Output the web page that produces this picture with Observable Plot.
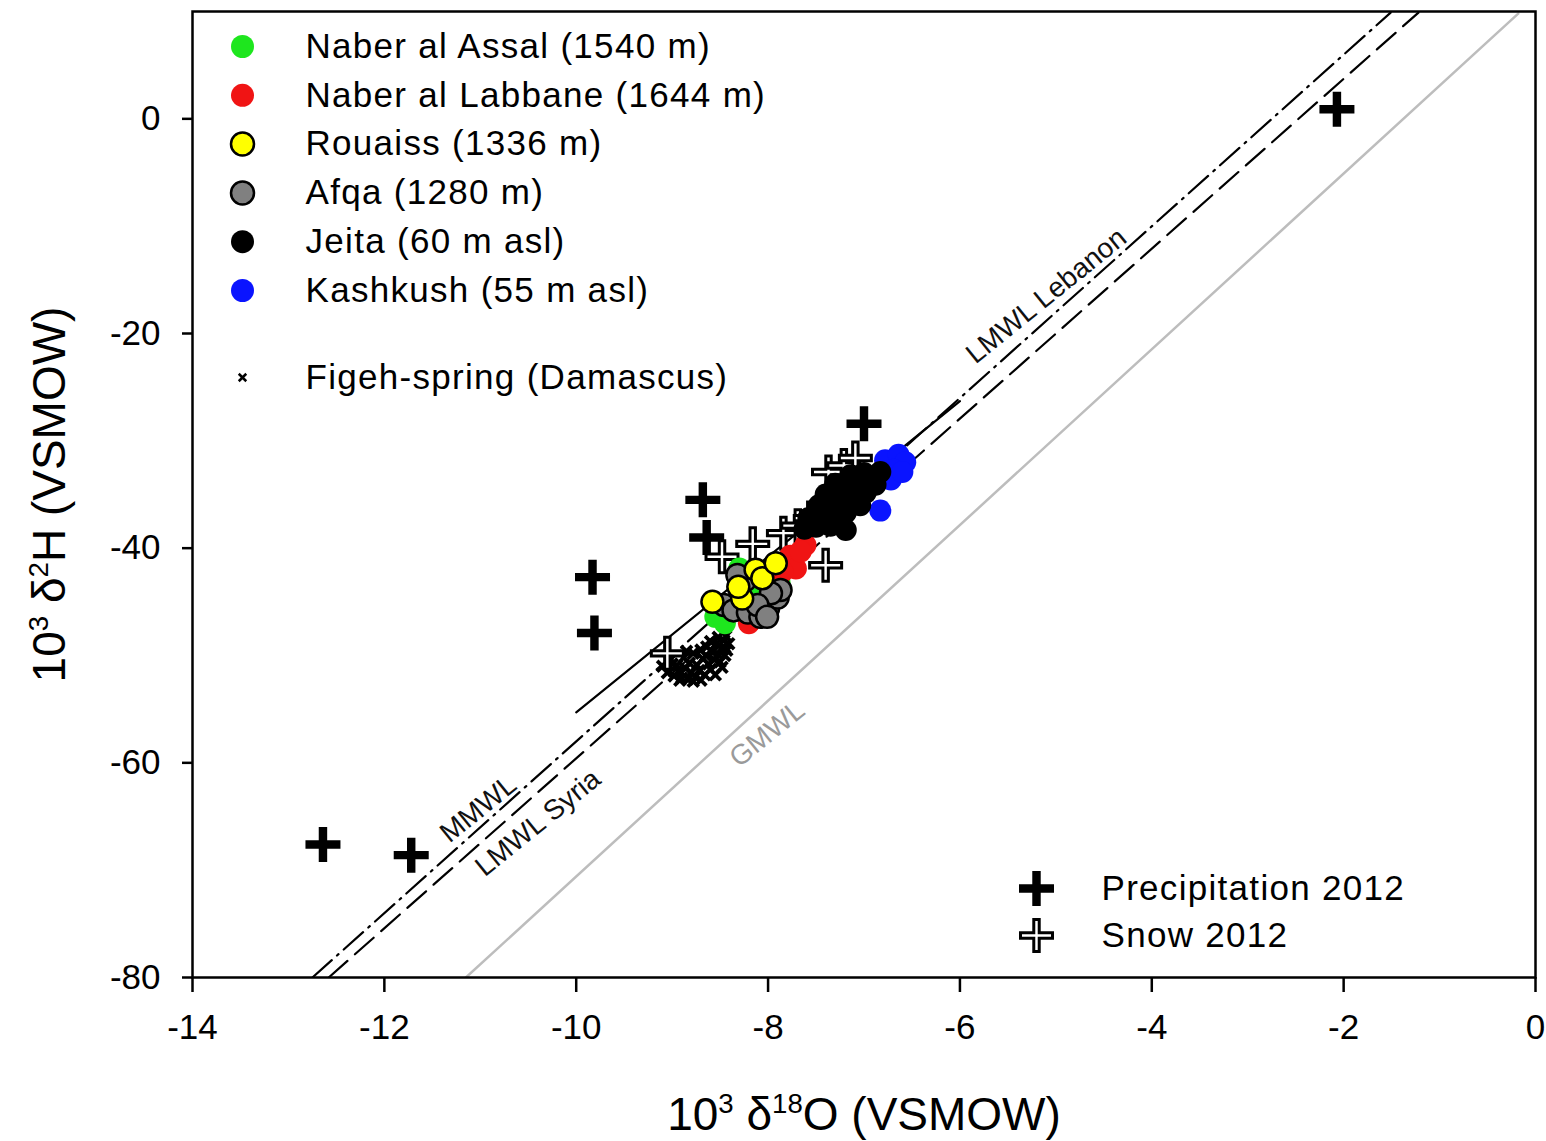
<!DOCTYPE html>
<html><head><meta charset="utf-8">
<script src="https://cdn.jsdelivr.net/npm/d3@7"></script>
<script src="https://cdn.jsdelivr.net/npm/@observablehq/plot@0.6"></script>
<style>html,body{margin:0;padding:0;background:#fff;}</style>
</head><body><div id="chart"></div>
<script>
// ---------- data (δ18O, δ2H in ‰ VSMOW) ----------
const xTicks = [-14, -12, -10, -8, -6, -4, -2, 0];
const yTicks = [-80, -60, -40, -20, 0];

const naberAssal = [[-8.55,-46.4],[-8.45,-47.0],[-8.30,-41.9],[-8.12,-43.9],[-7.88,-43.2],[-8.22,-45.2]];
const naberLabbane = [[-7.77,-40.7],[-7.61,-39.7],[-7.71,-41.9],[-7.66,-40.3],[-8.20,-47.0],[-7.85,-42.2]];
const rouaiss = [[-8.58,-45.0],[-8.27,-44.7],[-8.31,-43.6],[-8.13,-42.0],[-8.06,-42.8],[-7.92,-41.4]];
const afqa = [[-8.46,-45.3],[-8.36,-45.8],[-8.21,-46.0],[-8.08,-46.4],[-8.00,-45.6],[-7.90,-44.6],
              [-7.87,-43.9],[-7.97,-44.2],[-8.11,-45.3],[-8.24,-43.0],[-8.32,-42.5],[-8.01,-46.4]];
const jeita = [[-7.54,-37.4],[-7.40,-36.7],[-7.25,-35.3],[-7.09,-34.6],[-6.93,-33.5],[-6.83,-32.9],
               [-7.19,-38.3],[-7.35,-37.9],[-7.04,-36.0],[-7.30,-34.0],[-7.14,-33.2],[-6.98,-34.8],
               [-7.47,-36.0],[-7.58,-37.2],[-6.88,-34.1],[-7.19,-36.7],[-7.50,-38.0],[-7.30,-36.0],
               [-7.10,-35.5],[-7.40,-35.0],[-7.00,-33.0],[-7.25,-37.0],[-7.20,-34.2],[-7.62,-38.2]];
const kashkush = [[-6.78,-31.8],[-6.64,-31.3],[-6.57,-32.0],[-6.69,-32.7],[-6.83,-33.5],[-6.83,-36.5],
                  [-6.72,-33.6],[-6.60,-32.9]];
const figehSpring = [[-9.10,-51.0],[-9.05,-51.6],[-9.02,-50.4],[-8.98,-51.9],[-8.95,-50.9],[-8.93,-51.5],
  [-8.90,-52.1],[-8.88,-50.2],[-8.86,-51.2],[-8.84,-52.2],[-8.82,-50.7],[-8.80,-51.6],[-8.78,-49.8],
  [-8.76,-52.0],[-8.74,-50.9],[-8.72,-51.4],[-8.70,-49.5],[-8.68,-50.3],[-8.66,-51.8],[-8.64,-49.2],
  [-8.62,-50.8],[-8.60,-51.3],[-8.58,-49.7],[-8.56,-50.4],[-8.54,-48.9],[-8.52,-49.9],[-8.50,-50.6],
  [-8.48,-49.3],[-8.46,-48.6],[-8.45,-50.0],[-8.43,-49.5],[-8.41,-48.9],[-8.48,-51.1],[-8.60,-48.7],
  [-8.70,-52.3],[-8.92,-52.3],[-9.00,-50.8],[-8.85,-49.6],[-8.55,-51.8],[-8.78,-52.4],[-8.65,-50.0],
  [-8.52,-48.3],[-8.44,-48.2]];
const precipitation2012 = [[-12.64,-67.6],[-11.72,-68.6],[-9.83,-42.7],[-9.81,-47.9],[-8.68,-35.5],
                           [-8.64,-39.0],[-7.00,-28.4],[-2.07,0.9]];
const snow2012 = [[-8.48,-40.8],[-8.16,-39.6],[-7.84,-38.6],[-7.69,-37.9],[-7.40,-41.6],[-7.37,-32.9],
                  [-7.21,-32.3],[-7.09,-31.6],[-9.05,-49.8],[-7.56,-37.2]];

// reference lines (end points)
const gmwlO = [-11.15, -0.18], gmwlH = [-80, 9.8];
const mmwlO = [-12.75, -1.51], mmwlH = [-80, 9.9];
const lmwlSyriaO = [-12.58, -1.22], lmwlSyriaH = [-80, 9.9];
const lmwlLebanonO = [-10.0, -6.0], lmwlLebanonH = [-55.3, -26.3];

const lineLabels = ["MMWL", "LMWL Syria", "LMWL Lebanon", "GMWL"];
const lineLabelO = [-11.02, -10.40, -5.10, -8.01];
const lineLabelH = [-64.3, -65.6, -16.5, -57.3];
const lineLabelColor = ["#111", "#111", "#111", "#9a9a9a"];

const legendTop = ["Naber al Assal (1540 m)", "Naber al Labbane (1644 m)", "Rouaiss (1336 m)",
                   "Afqa (1280 m)", "Jeita (60 m asl)", "Kashkush (55 m asl)"];
const legendFigeh = "Figeh-spring (Damascus)";
const legendBottom = ["Precipitation 2012", "Snow 2012"];
const xLabel = "__XLABEL__", yLabel = "__YLABEL__";

// ---------- helpers ----------
const rows = a => a.map(([o, h]) => ({o, h}));
const seg = (O, H) => O.map((o, i) => ({o, h: H[i]}));
const cross = {
  draw(ctx, size) {
    const R = Math.sqrt(size / Math.PI), w = R * 0.17;
    ctx.moveTo(-w, -R); ctx.lineTo(w, -R); ctx.lineTo(w, -w); ctx.lineTo(R, -w);
    ctx.lineTo(R, w); ctx.lineTo(w, w); ctx.lineTo(w, R); ctx.lineTo(-w, R);
    ctx.lineTo(-w, w); ctx.lineTo(-R, w); ctx.lineTo(-R, -w); ctx.lineTo(-w, -w);
    ctx.closePath();
  }
};
const styles = [
  {fill: "#1ee61e"},
  {fill: "#f01414"},
  {fill: "#ffff00", stroke: "black", strokeWidth: 2.5},
  {fill: "#808080", stroke: "black", strokeWidth: 2.5},
  {fill: "black"},
  {fill: "#0a14ff"}
];
const series = [naberAssal, naberLabbane, rouaiss, afqa, jeita, kashkush];
const drawOrder = [0, 1, 5, 4, 3, 2];
const R = 11;
const legendTexts = new Set([...legendTop, legendFigeh, ...legendBottom]);

const marks = [
  Plot.line(seg(gmwlO, gmwlH), {x: "o", y: "h", stroke: "#bdbdbd", strokeWidth: 2.5, clip: true}),
  Plot.line(seg(mmwlO, mmwlH), {x: "o", y: "h", stroke: "black", strokeWidth: 2.2, strokeDasharray: "26,7,2,7", clip: true}),
  Plot.line(seg(lmwlSyriaO, lmwlSyriaH), {x: "o", y: "h", stroke: "black", strokeWidth: 2.2, strokeDasharray: "25,10", clip: true}),
  Plot.line(seg(lmwlLebanonO, lmwlLebanonH), {x: "o", y: "h", stroke: "black", strokeWidth: 2.2, clip: true}),
  Plot.text(lineLabels, {x: (d, i) => lineLabelO[i], y: (d, i) => lineLabelH[i], text: d => d,
    rotate: -39, fontSize: 28, fill: (d, i) => lineLabelColor[i]}),
  Plot.dot(rows(figehSpring), {x: "o", y: "h", symbol: "times", r: 5, stroke: "black", strokeWidth: 3.8}),
  Plot.dot(rows(snow2012), {x: "o", y: "h", symbol: cross, r: 16, fill: "white", stroke: "black", strokeWidth: 3}),
  Plot.dot(rows(precipitation2012), {x: "o", y: "h", symbol: cross, r: 16, fill: "black", stroke: "black", strokeWidth: 3}),
  ...drawOrder.map(k => Plot.dot(rows(series[k]), {x: "o", y: "h", r: R, ...styles[k]})),
  Plot.frame({stroke: "black", strokeWidth: 2.5}),
  Plot.axisX({ticks: xTicks, tickFormat: d => String(d), tickSize: 15, tickPadding: 22, fontSize: 35, strokeWidth: 2.5, label: null}),
  Plot.axisY({ticks: yTicks, tickFormat: d => String(d), tickSize: 10, tickPadding: 22, fontSize: 35, strokeWidth: 2.5, label: null}),
  Plot.text([xLabel], {frameAnchor: "bottom", dy: 138, text: d => d, fontSize: 46, textAnchor: "middle", lineAnchor: "middle"}),
  Plot.text([yLabel], {frameAnchor: "left", dx: -142, text: d => d, fontSize: 46, rotate: -90, textAnchor: "middle", lineAnchor: "middle"})
];

// legend (top-left, inside frame)
legendTop.forEach((label, i) => {
  const dy = 35 + i * 48.8;
  marks.push(Plot.dot([0], {frameAnchor: "top-left", dx: 50, dy, r: 11.5, ...styles[i]}));
  marks.push(Plot.text([label], {frameAnchor: "top-left", dx: 113, dy, text: d => d, fontSize: 35, textAnchor: "start", lineAnchor: "middle"}));
});
marks.push(Plot.dot([0], {frameAnchor: "top-left", dx: 50, dy: 366, symbol: "times", r: 3.5, stroke: "black", strokeWidth: 2.5}));
marks.push(Plot.text([legendFigeh], {frameAnchor: "top-left", dx: 113, dy: 366, text: d => d, fontSize: 35, textAnchor: "start", lineAnchor: "middle"}));
// legend (bottom-right, inside frame)
legendBottom.forEach((label, i) => {
  const dy = -89 + i * 47;
  marks.push(Plot.dot([0], {frameAnchor: "bottom-right", dx: -499, dy, symbol: cross, r: 16,
    fill: i === 0 ? "black" : "white", stroke: "black", strokeWidth: 3}));
  marks.push(Plot.text([label], {frameAnchor: "bottom-right", dx: -434, dy, text: d => d, fontSize: 35, textAnchor: "start", lineAnchor: "middle"}));
});

const svg = Plot.plot({
  width: 1546, height: 1141,
  marginLeft: 192, marginRight: 11, marginTop: 11, marginBottom: 164,
  style: {fontFamily: "'Liberation Sans', Arial, sans-serif", background: "white", color: "black"},
  x: {domain: [-14, 0]},
  y: {domain: [-80, 10]},
  marks
});

// superscripts in axis titles
function supLabel(node, parts) {
  const t = d3.select(node);
  t.text(null);
  let prevSup = false;
  parts.forEach(([txt, sup]) => {
    const s = t.append("tspan").text(txt);
    if (sup) s.attr("font-size", "0.6em").attr("dy", "-17px");
    else if (prevSup) s.attr("dy", "17px");
    prevSup = !!sup;
  });
}
d3.select(svg).selectAll("text").each(function () {
  const c = this.textContent;
  if (c === "__XLABEL__") supLabel(this, [["10"], ["3", 1], [" δ"], ["18", 1], ["O (VSMOW)"]]);
  else if (c === "__YLABEL__") supLabel(this, [["10"], ["3", 1], [" δ"], ["2", 1], ["H (VSMOW)"]]);
  else if (legendTexts.has(c)) this.style.letterSpacing = "1.3px";
});

document.getElementById("chart").appendChild(svg);
</script>
</body></html>
